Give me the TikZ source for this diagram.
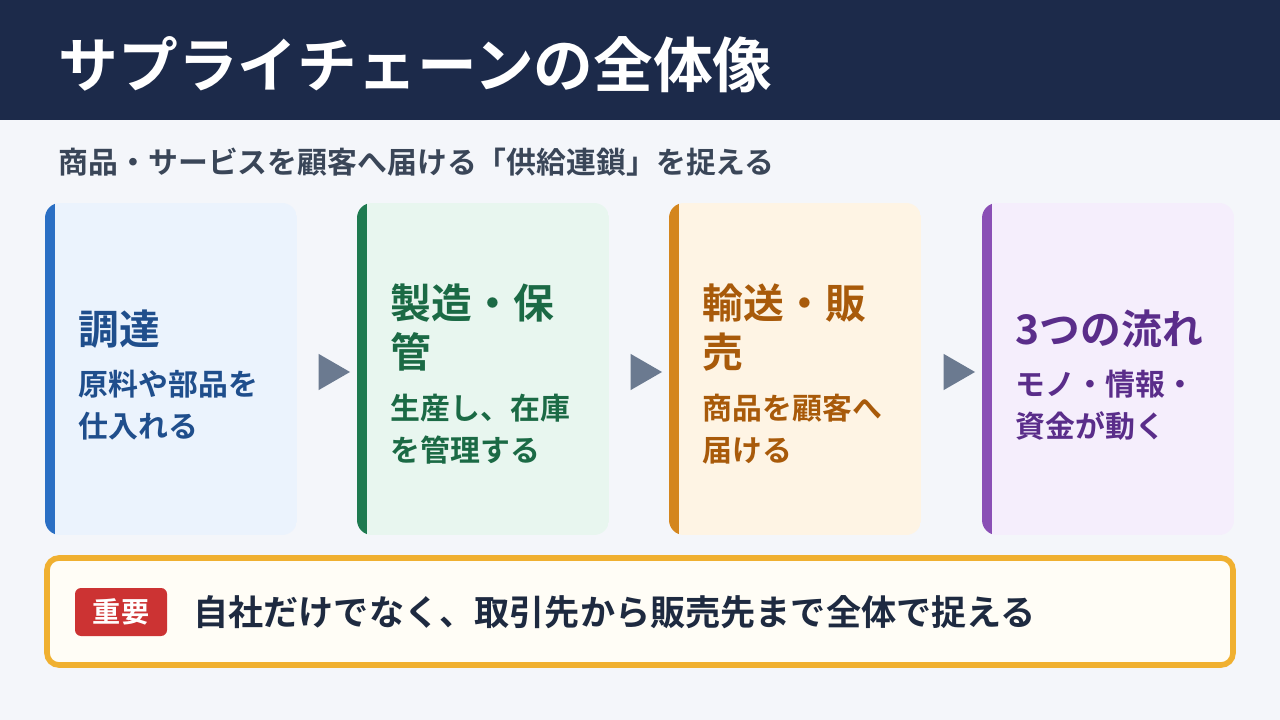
\documentclass[tikz,border=0pt]{standalone}
\usepackage{fontspec}
\setmainfont{Noto Sans CJK JP}[BoldFont={Noto Sans CJK JP Bold}]
\usetikzlibrary{positioning, shapes.geometric}
\definecolor{navy}{HTML}{1C2A4A}
\definecolor{bgc}{HTML}{F4F6FA}
\definecolor{subc}{HTML}{3A4658}
\definecolor{blueB}{HTML}{2A6FC4}\definecolor{blueF}{HTML}{EBF3FD}\definecolor{blueT}{HTML}{1F4E8C}
\definecolor{greenB}{HTML}{1E7A50}\definecolor{greenF}{HTML}{E8F6EF}\definecolor{greenT}{HTML}{1B6A45}
\definecolor{oranB}{HTML}{D4861E}\definecolor{oranF}{HTML}{FEF4E4}\definecolor{oranT}{HTML}{A85A0A}
\definecolor{purpB}{HTML}{8A4FB5}\definecolor{purpF}{HTML}{F5EEFC}\definecolor{purpT}{HTML}{5A2D8A}
\definecolor{arrc}{HTML}{6B7A90}
\definecolor{notec}{HTML}{F0B030}
\definecolor{notef}{HTML}{FFFDF6}
\definecolor{badge}{HTML}{CC3333}
\definecolor{textc}{HTML}{1E2A40}
\tikzset{
  cardttl/.style={anchor=base west, inner sep=0pt, align=left, font=\bfseries\fontsize{11.6}{14.2}\selectfont},
  cardtxt/.style={anchor=base west, inner sep=0pt, align=left, font=\bfseries\fontsize{8.5}{12.2}\selectfont},
  flowtip/.style={regular polygon, regular polygon sides=3, shape border rotate=-90,
    fill=arrc, inner sep=0pt, minimum size=0.42cm}
}
% one card: #1 x left, #2 border colour, #3 fill colour, #4 name
\newcommand{\drawcard}[4]{
  \begin{scope}
    \clip[rounded corners=0.15cm] (#1,-2.03) rectangle ++(2.52,-3.32);
    \fill[#3] (#1,-2.03) rectangle ++(2.52,-3.32);
    \fill[#2] (#1,-2.03) rectangle ++(0.1,-3.32);
  \end{scope}
  \coordinate (#4) at (#1,-2.03);
}
\begin{document}
\begin{tikzpicture}
  \useasboundingbox (0,0) rectangle (12.8,-7.2);
  \fill[bgc] (0,0) rectangle (12.8,-7.2);
  \fill[navy] (0,0) rectangle (12.8,-1.2);
  \node[anchor=west, inner sep=0pt, text=white, font=\bfseries\fontsize{17}{19}\selectfont] (title) at (0.58,-0.65) {サプライチェーンの全体像};
  \node[anchor=west, inner sep=0pt, text=subc, font=\bfseries\fontsize{8.5}{10}\selectfont] (sub) at (0.58,-1.62) {商品・サービスを顧客へ届ける「供給連鎖」を捉える};

  % cards
  \drawcard{0.45}{blueB}{blueF}{c1}
  \drawcard{3.57}{greenB}{greenF}{c2}
  \drawcard{6.69}{oranB}{oranF}{c3}
  \drawcard{9.82}{purpB}{purpF}{c4}

  \node[cardttl, text=blueT] (t1) at (0.78,-3.45) {調達};
  \node[cardtxt, text=blueT] (b1) at (0.78,-4.38) {原料や部品を\\仕入れる};
  \node[cardttl, text=greenT] (t2) at (3.90,-3.68) {製造・保\\管};
  \node[cardtxt, text=greenT] (b2) at (3.90,-4.62) {生産し、在庫\\を管理する};
  \node[cardttl, text=oranT] (t3) at (7.02,-3.68) {輸送・販\\売};
  \node[cardtxt, text=oranT] (b3) at (7.02,-4.62) {商品を顧客へ\\届ける};
  \node[cardttl, text=purpT] (t4) at (10.15,-3.45) {3つの流れ};
  \node[cardtxt, text=purpT] (b4) at (10.15,-4.38) {モノ・情報・\\資金が動く};

  \node[flowtip] (a1) at (3.29,-3.72) {};
  \node[flowtip] (a2) at (6.41,-3.72) {};
  \node[flowtip] (a3) at (9.54,-3.72) {};

  % note
  \draw[notec, line width=1.6pt, fill=notef, rounded corners=0.12cm] (0.47,-5.58) rectangle (12.33,-6.65);
  \node[fill=badge, rounded corners=0.06cm, text=white, font=\bfseries\fontsize{8}{9}\selectfont,
    minimum width=0.92cm, minimum height=0.48cm, inner sep=0pt] (tag) at (1.21,-6.12) {重要};
  \node[right=0.25cm of tag, inner sep=0pt, text=textc, font=\bfseries\fontsize{10}{11}\selectfont] (note) {自社だけでなく、取引先から販売先まで全体で捉える};
\end{tikzpicture}
\end{document}
